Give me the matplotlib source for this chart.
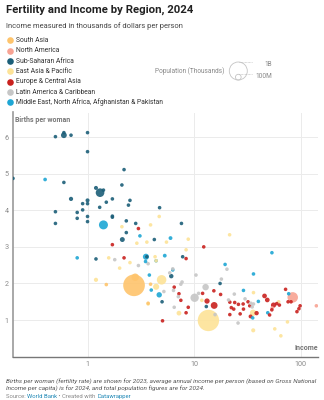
import numpy as np
import matplotlib
matplotlib.use("Agg")
import matplotlib.pyplot as plt
from matplotlib.patches import Circle
from matplotlib.lines import Line2D

plt.rcParams["font.family"] = ["Roboto", "DejaVu Sans"]

# region -> (income in thousand $, births per woman, population in millions)
regions = [
    "South Asia",
    "North America",
    "Sub-Saharan Africa",
    "East Asia & Pacific",
    "Europe & Central Asia",
    "Latin America & Caribbean",
    "Middle East, North Africa, Afghanistan & Pakistan",
]
colors = ["#fec46c", "#f8a393", "#1b5e78", "#fde397", "#c9211e", "#c6c6c6", "#1ea6d4"]

south_asia_inc = [2.73, 2.80, 1.50, 3.70, 3.90]
south_asia_fert = [1.95, 2.17, 1.97, 1.46, 1.98]
south_asia_pop = [1450, 173, 30, 1, 22]

north_america_inc = [84.0, 54.0, 140.0]
north_america_fert = [1.62, 1.33, 1.39]
north_america_pop = [340, 40, 1]

ssa_inc = [0.20, 0.50, 0.60, 0.60, 0.70, 1.00, 1.00, 2.20, 0.60, 2.10, 1.20, 1.31, 1.41,
           0.70, 1.00, 1.00, 0.90, 1.50, 1.71, 2.50, 2.42, 1.30, 4.74, 0.50, 0.80, 0.90,
           0.80, 1.00, 1.71, 1.71, 1.00, 0.50, 2.31, 2.83, 7.60, 2.31, 2.12, 4.23, 1.20,
           3.60, 7.80, 6.10, 17.5, 5.00, 13.0]
ssa_fert = [4.87, 6.01, 6.05, 6.12, 6.05, 6.12, 5.60, 5.11, 4.76, 4.69, 4.61, 4.48, 4.55,
            4.31, 4.27, 4.18, 4.18, 4.22, 4.31, 4.27, 4.14, 4.08, 4.07, 3.96, 3.94, 4.01,
            3.78, 3.83, 3.84, 3.81, 3.69, 3.64, 3.71, 3.64, 3.64, 3.39, 3.20, 3.20, 2.67,
            2.73, 2.73, 2.20, 2.00, 1.50, 1.37]
ssa_pop = [18, 12, 105, 20, 30, 20, 19, 30, 35, 8, 50, 230, 30,
           55, 50, 10, 25, 20, 35, 35, 12, 28, 5, 30, 8, 8,
           10, 8, 15, 10, 14, 25, 18, 5, 3, 35, 75, 5, 5,
           15, 3, 60, 2, 3, 2]

eap_inc = [13.6, 4.95, 4.40, 1.20, 7.20, 11.8, 35.7, 35.8, 57.0, 65.0, 75.0, 62.0, 36.0,
           21.5, 2.10, 3.90, 4.70, 2.90, 3.60, 5.50, 8.80, 8.40, 1.58, 4.30, 2.50, 2.00,
           3.70, 4.40]
eap_fert = [0.99, 2.10, 1.91, 2.10, 1.19, 1.54, 1.20, 0.72, 0.76, 0.57, 0.95, 1.50, 1.75,
            3.33, 3.55, 3.60, 3.83, 3.10, 3.13, 3.13, 3.21, 2.92, 2.70, 2.73, 2.57, 2.42,
            1.44, 2.62]
eap_pop = [1410, 280, 115, 54, 70, 34, 124, 52, 7, 1, 6, 27, 1,
           1, 1, 1, 1, 1, 1, 1, 1, 1, 1, 3, 8, 1,
           3, 1]

eca_inc = [3.00, 1.71, 12.3, 2.20, 8.40, 5.05, 6.50, 7.20, 7.50, 8.40, 8.80, 12.0, 15.3,
           17.7, 13.2, 15.4, 21.6, 24.0, 26.0, 28.8, 32.0, 33.2, 22.3, 23.5, 29.0, 21.6,
           27.0, 33.8, 38.5, 45.7, 48.5, 55.5, 59.5, 63.0, 53.5, 51.0, 72.0, 76.0, 81.0,
           98.5, 96.0, 92.0]
eca_fert = [3.50, 3.06, 3.00, 2.70, 2.68, 0.98, 1.90, 1.72, 1.54, 1.20, 1.35, 1.73, 1.80,
            1.70, 1.52, 1.40, 1.49, 1.48, 1.43, 1.44, 1.50, 1.39, 1.34, 1.30, 1.30, 1.15,
            1.17, 1.10, 1.19, 1.66, 1.55, 1.41, 1.45, 1.41, 1.28, 1.14, 1.84, 1.50, 1.50,
            1.39, 1.31, 1.23]
eca_pop = [10, 5, 20, 7, 7, 37, 3, 3, 3, 3, 3, 3, 3,
           3, 86, 144, 3, 3, 3, 3, 3, 3, 3, 3, 3, 37,
           3, 48, 59, 68, 68, 84, 3, 3, 3, 3, 3, 3, 3,
           3, 3, 3]

lac_inc = [1.80, 3.00, 3.70, 5.90, 6.30, 7.50, 6.40, 5.20, 7.10, 10.4, 10.1, 12.8, 6.50,
           7.70, 11.0, 15.7, 25.8, 20.3, 18.0, 23.8, 21.0, 30.0, 34.0, 36.0, 35.0]
lac_fert = [2.65, 2.49, 2.54, 2.29, 2.40, 1.98, 1.81, 1.78, 1.64, 2.23, 1.61, 1.90, 1.35,
            2.04, 1.73, 1.15, 0.92, 2.39, 2.12, 1.71, 1.55, 1.58, 1.46, 1.44, 1.36]
lac_pop = [12, 3, 10, 12, 3, 35, 3, 3, 3, 3, 216, 130, 3,
           3, 3, 20, 3, 3, 3, 3, 3, 3, 3, 3, 3]

mena_inc = [0.40, 1.41, 3.10, 6.00, 53.6, 0.80, 3.53, 5.30, 4.40, 3.50, 3.80, 6.30, 19.5,
            36.0, 3.96, 4.70, 29.0, 40.0, 49.0, 35.4, 77.0]
mena_fert = [4.84, 3.60, 3.30, 3.24, 2.84, 2.70, 2.73, 2.76, 2.62, 2.60, 2.23, 2.37, 2.52,
             2.26, 1.82, 1.69, 1.81, 1.51, 1.20, 1.06, 1.72]
mena_pop = [42, 250, 8, 46, 5, 25, 115, 45, 11, 10, 38, 7, 5,
            33, 12, 90, 5, 3, 10, 3, 3]

series = [
    (south_asia_inc, south_asia_fert, south_asia_pop),
    (north_america_inc, north_america_fert, north_america_pop),
    (ssa_inc, ssa_fert, ssa_pop),
    (eap_inc, eap_fert, eap_pop),
    (eca_inc, eca_fert, eca_pop),
    (lac_inc, lac_fert, lac_pop),
    (mena_inc, mena_fert, mena_pop),
]

y_ticks = [1, 2, 3, 4, 5, 6]
x_ticks = [1, 10, 100]
x_tick_labels = ["1", "10", "100"]

W, H, DPI = 324, 400, 100
PX = 72.0 / DPI  # points per pixel


def fx(px):
    return px / W


def fy(py):
    return 1 - py / H


def pop_radius(pop_m):
    # bubble radius in pixels, sqrt scaled, 1B -> ~9px
    return np.maximum(1.8, 9.0 * np.sqrt(np.asarray(pop_m, dtype=float) / 1000.0))


fig = plt.figure(figsize=(W / DPI, H / DPI), dpi=DPI)
ax = fig.add_axes([fx(13), fy(356.7), fx(305), (356.7 - 112.5) / H])

# big bubbles first so small ones stay on top
pts = []
for (inc, fert, pop), col in zip(series, colors):
    for a, b, c in zip(inc, fert, pop):
        pts.append((c, a, b, col))
pts.sort(key=lambda p: -p[0])
radii = pop_radius([p[0] for p in pts])
ax.scatter([p[1] for p in pts], [p[2] for p in pts],
           s=(2 * radii * PX) ** 2, c=[p[3] for p in pts],
           alpha=0.9, linewidths=0, zorder=3)

ax.set_xscale("log")
ax.set_xlim(0.2, 145)
ax.set_ylim(0, 6.67)
ax.set_xticks(x_ticks)
ax.set_xticklabels(x_tick_labels)
ax.minorticks_off()
ax.set_yticks(y_ticks)
ax.grid(True, color="#ebebeb", linewidth=0.7, zorder=0)
ax.tick_params(length=0, labelsize=5.2, labelcolor="#8a8a8a", pad=3)
for side in ["top", "right"]:
    ax.spines[side].set_visible(False)
ax.spines["left"].set_color("#9a9a9a")
ax.spines["left"].set_linewidth(1.2)
ax.spines["bottom"].set_color("#777777")
ax.spines["bottom"].set_linewidth(1.0)
ax.set_axisbelow(True)

ax.text(0.008, 0.985, "Births per woman", transform=ax.transAxes, fontsize=5,
        color="#777777", fontweight="bold", va="top", ha="left")
ax.text(1.0, 0.018, "Income", transform=ax.transAxes, fontsize=5,
        color="#777777", fontweight="bold", va="bottom", ha="right")

# title block
fig.text(fx(6), fy(10), "Fertility and Income by Region, 2024", fontsize=8.2,
         fontweight="bold", color="#222222", va="center", ha="left")
fig.text(fx(6), fy(26), "Income measured in thousands of dollars per person",
         fontsize=5.4, color="#444444", va="center", ha="left")

# colour legend
legend_y = [40.3, 50.7, 61.2, 71.4, 81.8, 92.0, 102.3]
for name, col, yy in zip(regions, colors, legend_y):
    fig.lines.append(Line2D([fx(10)], [fy(yy)], marker="o", markersize=6.6 * PX,
                            markeredgewidth=0, color=col, linestyle="none",
                            transform=fig.transFigure))
    fig.text(fx(16), fy(yy), name, fontsize=4.9, color="#333333", va="center", ha="left")

# population size legend
fig.text(fx(224), fy(71.5), "Population (Thousands)", fontsize=4.7,
         color="#888888", va="center", ha="right")
base, cx = 80.0, 238.3
for pop, label, ly in [(1000, "1B", 64.3), (100, "100M", 76.7)]:
    r = 9.0 * np.sqrt(pop / 1000.0)
    circ = Circle((cx / DPI, (H - (base - r)) / DPI), r / DPI, transform=fig.dpi_scale_trans,
                  fill=False, edgecolor="#c4c4c4", linewidth=0.6)
    fig.patches.append(circ)
    fig.lines.append(Line2D([fx(cx + 1), fx(252)], [fy(base - 2 * r)] * 2,
                            color="#b5b5b5", linewidth=0.5, linestyle=(0, (1, 1)),
                            transform=fig.transFigure))
    fig.text(fx(272), fy(ly), label, fontsize=4.7, color="#888888", va="center", ha="right")

# notes
fig.text(fx(6), fy(381),
         "Births per woman (fertility rate) are shown for 2023, average annual income per person (based on Gross National",
         fontsize=4.55, color="#555555", style="italic", va="center", ha="left")
fig.text(fx(6), fy(387.7),
         "Income per capita) is for 2024, and total population figures are for 2024.",
         fontsize=4.55, color="#555555", style="italic", va="center", ha="left")

renderer = fig.canvas.get_renderer()
x_cur = 6
for chunk, col in [("Source: ", "#888888"), ("World Bank", "#1d87b5"),
                   (" • Created with ", "#888888"), ("Datawrapper", "#1d87b5")]:
    t = fig.text(fx(x_cur), fy(396.5), chunk, fontsize=4.2, color=col, va="center", ha="left")
    x_cur += t.get_window_extent(renderer).width

fig.savefig("out.png", dpi=DPI)
